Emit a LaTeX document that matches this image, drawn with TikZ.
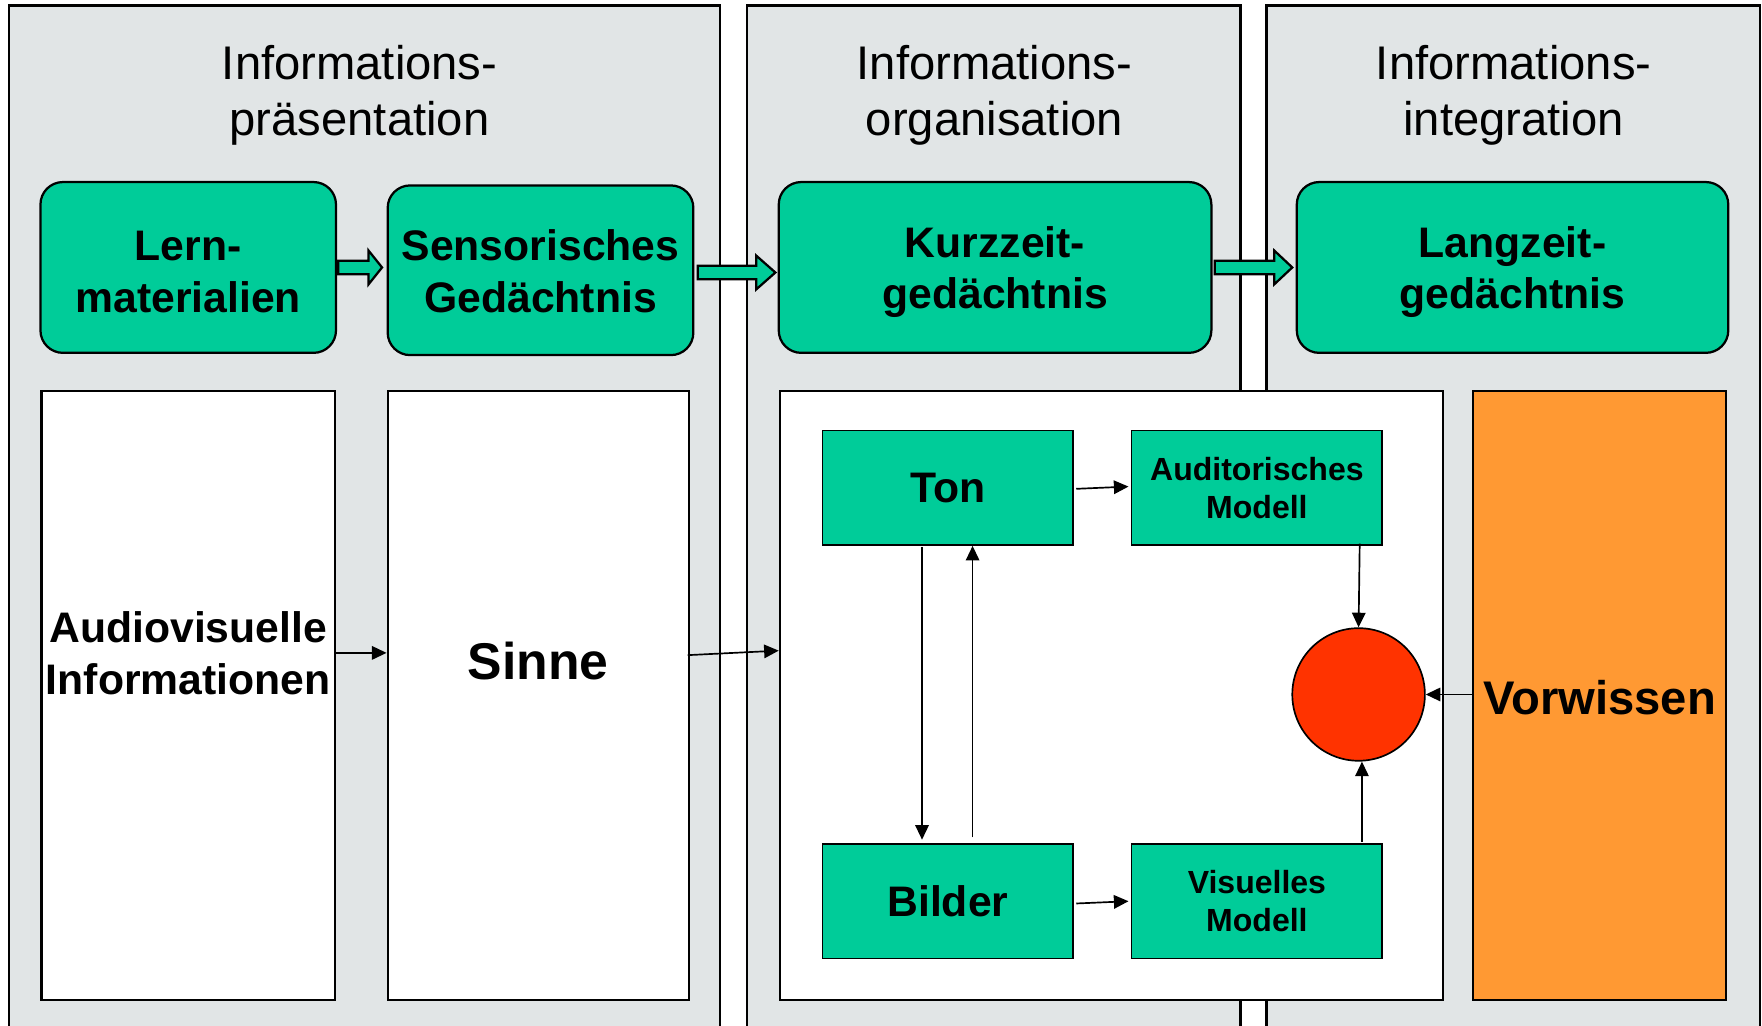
\documentclass[tikz,border=0pt]{standalone}
\usepackage{fontspec}
\setmainfont{Liberation Sans}
\usetikzlibrary{calc,arrows.meta}
\definecolor{panelgray}{RGB}{225,229,230}
\definecolor{boxgreen}{RGB}{0,204,153}
\definecolor{orangebox}{RGB}{255,153,51}
\definecolor{redcirc}{RGB}{255,51,0}
\begin{document}
\begin{tikzpicture}[x=1pt,y=-1pt,
  panel/.style={draw=black,line width=2pt,fill=panelgray},
  rbox/.style={draw=black,line width=2pt,fill=boxgreen,rounded corners=20pt,inner sep=0pt},
  wbox/.style={draw=black,line width=2pt,fill=white,inner sep=0pt},
  gbox/.style={draw=black,line width=1.5pt,fill=boxgreen,inner sep=0pt,align=center,minimum width=223pt,minimum height=102pt,font=\fontsize{38}{46}\selectfont\bfseries},
  title/.style={align=center,font=\fontsize{42}{50}\selectfont,inner sep=0pt},
  btext/.style={align=center,font=\fontsize{38}{46}\selectfont\bfseries,inner sep=0pt},
  conn/.style={line width=1.5pt,-{Triangle[length=13pt,width=12pt]}},
  barrow/.style={draw=black,line width=2pt,fill=boxgreen,line join=miter}
]
\useasboundingbox (0,0) rectangle (1568,913);
\clip (0,0) rectangle (1568,913);
% panels
\draw[panel] (8,5) rectangle (641,940);
\draw[panel] (665,5) rectangle (1104,940);
\draw[panel] (1127,5) rectangle (1566,940);
% titles
\node[title] (t1) at (320,85) {Informations-\\präsentation};
\node[title] (t2) at (885,85) {Informations-\\organisation};
\node[title] (t3) at (1347,85) {Informations-\\integration};
% top rounded boxes
\node[rbox,minimum width=263pt,minimum height=152pt] (lern) at (167.5,238) {};
\node[rbox,minimum width=272pt,minimum height=151pt] (sens) at (481,240.5) {};
\node[rbox,minimum width=385pt,minimum height=152pt] (kurz) at (885.5,238) {};
\node[rbox,minimum width=384pt,minimum height=152pt] (lang) at (1346,238) {};
\node[btext] (lerntxt) at ($(lern)+(0,4)$) {Lern-\\materialien};
\node[btext] (senstxt) at ($(sens)+(0,1)$) {Sensorisches\\Gedächtnis};
\node[btext] (kurztxt) at ($(kurz)+(0,4)$) {Kurzzeit-\\gedächtnis};
\node[btext] (langtxt) at ($(lang)+(0,4)$) {Langzeit-\\gedächtnis};
% block arrows
\draw[barrow] let \p1=(lern.east), \p2=(sens.west) in
  (\x1+1pt,\y1+6pt) -- (\x2-16pt,\y1+6pt) -- (\x2-16pt,\y1+15pt) -- (\x2-4pt,\y1) --
  (\x2-16pt,\y1-15pt) -- (\x2-16pt,\y1-6pt) -- (\x1+1pt,\y1-6pt) -- cycle;
\draw[barrow] let \p1=(sens.east), \p2=(kurz.west) in
  (\x1+3pt,\y1+4pt) -- (\x2-19pt,\y1+4pt) -- (\x2-19pt,\y1+13pt) -- (\x2-2pt,\y1-2pt) --
  (\x2-19pt,\y1-17pt) -- (\x2-19pt,\y1-8pt) -- (\x1+3pt,\y1-8pt) -- cycle;
\draw[barrow] let \p1=(kurz.east), \p2=(lang.west) in
  (\x1+2pt,\y1+6pt) -- (\x2-19pt,\y1+6pt) -- (\x2-19pt,\y1+15pt) -- (\x2-3pt,\y1) --
  (\x2-19pt,\y1-15pt) -- (\x2-19pt,\y1-6pt) -- (\x1+2pt,\y1-6pt) -- cycle;
% lower white boxes
\node[wbox,minimum width=261pt,minimum height=542pt] (av) at (167.5,619) {};
\node[wbox,minimum width=268pt,minimum height=542pt] (sinne) at (479,619) {};
\node[wbox,minimum width=590pt,minimum height=542pt] (big) at (989,619) {};
\node[wbox,fill=orangebox,minimum width=225pt,minimum height=542pt] (vorw) at (1423.5,619) {};
\node[btext] (avtext) at (167.5,581) {Audiovisuelle\\Informationen};
\node[btext,font=\fontsize{46}{54}\selectfont\bfseries] (sinnetxt) at (479,588) {Sinne};
\node[btext,font=\fontsize{42}{50}\selectfont\bfseries] (vorwtxt) at (1423.5,621) {Vorwissen};
% inner boxes
\node[gbox] (ton) at (843.5,434) {Ton};
\node[gbox,font=\fontsize{28.5}{34}\selectfont\bfseries] (aud) at (1118.5,434) {Auditorisches\\Modell};
\node[gbox] (bild) at (843.5,802) {Bilder};
\node[gbox,font=\fontsize{28.5}{34}\selectfont\bfseries] (vis) at (1118.5,802) {Visuelles\\Modell};
\node[draw=black,line width=1.5pt,fill=redcirc,circle,minimum size=118pt,inner sep=0pt] (circ) at (1209,618) {};
% connectors
\draw[conn] (av.east |- avtext) -- (sinne.west |- avtext);
\draw[conn] ($(sinne.east |- sinnetxt)+(-2,-5)$) -- ($(big.west)+(0,-40)$);
\draw[conn] ($(ton.east)+(2,1)$) -- ($(aud.west)+(-2,-1)$);
\draw[conn] ($(bild.east)+(2,2)$) -- ($(vis.west)+(-2,0)$);
\draw[conn] ($(ton.south)+(-23,1)$) -- ($(bild.north)+(-23,-3)$);
\draw[conn] ($(bild.north)+(22,-5)$) -- ($(ton.south)+(22,0)$);
\draw[conn] ($(circ.north |- aud.south)+(1,-2)$) -- (circ.north);
\draw[conn] ($(circ.south |- vis.north)+(3,-1)$) -- ($(circ.south)+(3,0)$);
\draw[conn] (vorw.west |- circ) -- (circ.east);
\end{tikzpicture}
\end{document}
